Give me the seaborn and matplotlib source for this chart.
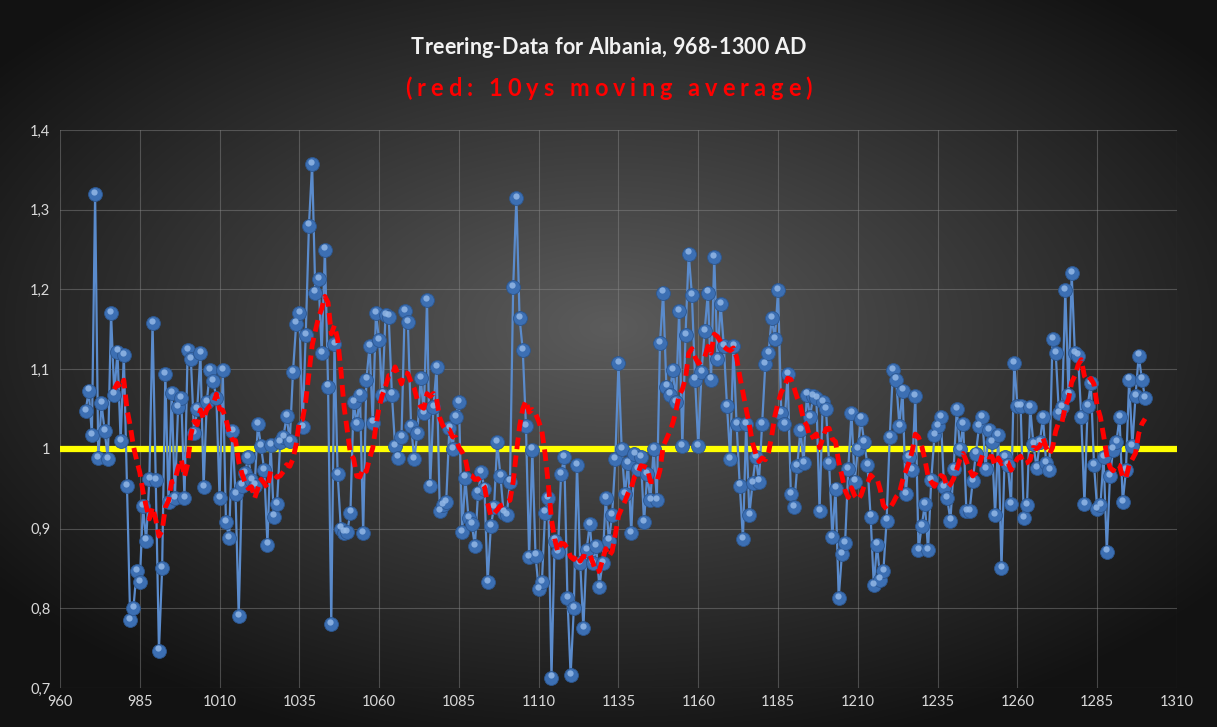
import numpy as np
import pandas as pd
import matplotlib
matplotlib.use("Agg")
import matplotlib.pyplot as plt
import seaborn as sns
from matplotlib.transforms import offset_copy
from matplotlib.ticker import FuncFormatter

# jahresringe, gelesen aus der grafik (968-1300)
first_year = 968
last_year = 1300

ring_968_999 = [
    1.047, 1.073, 1.017, 1.320, 0.988, 1.057, 1.022, 0.987, 1.170, 1.068,
    1.122, 1.010, 1.118, 0.953, 0.785, 0.800, 0.847, 0.833, 0.928, 0.885,
    0.962, 1.158, 0.961, 0.747, 0.850, 1.094, 0.933, 1.070, 0.938, 1.052,
    1.064, 0.938]
ring_1000_1099 = [
    1.124, 1.113, 1.020, 1.050, 1.120, 0.952, 1.059, 1.099, 1.085, 1.064,
    0.938, 1.099, 0.908, 0.888, 1.022, 0.943, 0.790, 0.954, 0.970, 0.990,
    0.961, 0.954, 1.031, 1.003, 0.973, 0.880, 1.005, 0.915, 0.931, 1.008,
    1.015, 1.041, 1.010, 1.096, 1.157, 1.170, 1.027, 1.143, 1.280, 1.357,
    1.196, 1.213, 1.120, 1.250, 1.078, 0.780, 1.131, 0.968, 0.900, 0.895,
    0.896, 0.920, 1.059, 1.031, 1.068, 0.894, 1.087, 1.129, 1.033, 1.170,
    1.136, 1.068, 1.168, 1.166, 1.068, 1.003, 0.989, 1.015, 1.173, 1.159,
    1.029, 0.987, 1.020, 1.089, 1.045, 1.187, 0.954, 1.052, 1.103, 0.922,
    0.929, 0.933, 1.026, 1.000, 1.040, 1.059, 0.896, 0.964, 0.913, 0.906,
    0.878, 0.945, 0.971, 0.950, 0.833, 0.903, 0.927, 1.008, 0.966, 0.920]
ring_1100_1199 = [
    0.917, 0.959, 1.203, 1.315, 1.164, 1.124, 1.029, 0.864, 0.999, 0.866,
    0.824, 0.833, 0.920, 0.938, 0.713, 0.885, 0.870, 0.968, 0.990, 0.813,
    0.716, 0.800, 0.980, 0.857, 0.775, 0.873, 0.906, 0.857, 0.878, 0.827,
    0.857, 0.938, 0.885, 0.917, 0.987, 1.108, 1.000, 0.943, 0.982, 0.894,
    0.993, 0.975, 0.990, 0.908, 0.968, 0.936, 1.000, 0.936, 1.133, 1.196,
    1.078, 1.068, 1.099, 1.059, 1.173, 1.003, 1.143, 1.245, 1.193, 1.087,
    1.003, 1.096, 1.148, 1.196, 1.087, 1.241, 1.113, 1.182, 1.129, 1.054,
    0.987, 1.129, 1.031, 0.954, 0.887, 1.031, 0.917, 0.957, 0.990, 0.959,
    1.031, 1.106, 1.120, 1.164, 1.138, 1.199, 1.045, 1.031, 1.094, 0.943,
    0.927, 0.978, 1.024, 0.982, 1.068, 1.040, 1.066, 1.064, 0.922, 1.059]
ring_1200_1300 = [
    1.050, 0.982, 0.889, 0.950, 0.813, 0.868, 0.882, 0.975, 1.045, 0.959,
    1.000, 1.038, 1.008, 0.980, 0.915, 0.829, 0.880, 0.836, 0.847, 0.910,
    1.015, 1.099, 1.087, 1.029, 1.073, 0.943, 0.990, 0.973, 1.066, 0.873,
    0.903, 0.931, 0.873, 0.961, 1.017, 1.029, 1.040, 0.952, 0.938, 0.910,
    0.975, 1.050, 1.000, 1.031, 0.922, 0.922, 0.960, 0.994, 1.029, 1.040,
    0.975, 1.024, 1.008, 0.917, 1.017, 0.850, 0.990, 0.980, 0.931, 1.108,
    1.054, 1.054, 0.913, 0.929, 1.052, 1.006, 0.976, 1.008, 1.040, 0.982,
    0.973, 1.138, 1.120, 1.045, 1.052, 1.199, 1.068, 1.220, 1.120, 1.117,
    1.040, 0.931, 1.054, 1.082, 0.980, 0.924, 0.929, 0.990, 0.871, 0.966,
    0.999, 1.008, 1.040, 0.933, 0.973, 1.087, 1.003, 1.066, 1.117, 1.087,
    1.064]

ma_window = 10
x_ticks = [960, 985, 1010, 1035, 1060, 1085, 1110, 1135, 1160, 1185, 1210, 1235, 1260, 1285, 1310]
y_ticks = [0.7, 0.8, 0.9, 1.0, 1.1, 1.2, 1.3, 1.4]

title = "Treering-Data for Albania, 968-1300 AD"
subtitle = "(red: 10ys moving average)"

values = ring_968_999 + ring_1000_1099 + ring_1100_1199 + ring_1200_1300
df = pd.DataFrame({"year": np.arange(first_year, last_year + 1), "ring": values})
df["ma"] = df["ring"].rolling(ma_window).mean()


# text mit sperrung (buchstabenabstand in pixeln), zentriert
def spacedText(fig, s, yfrac, gap, **kw):
    r = fig.canvas.get_renderer()
    W = fig.bbox.width
    parts = []
    for ch in s:
        t = fig.text(0, yfrac, ch, va="center", ha="left", **kw)
        w = t.get_window_extent(r).width
        if ch == " ":
            w = fig.text(0, 0, "a a", **kw).get_window_extent(r).width - \
                fig.text(0, 0, "aa", **kw).get_window_extent(r).width
            for t2 in fig.texts[-2:]:
                t2.remove()
        parts.append((t, w))
    total = sum(w for _, w in parts) + gap * (len(parts) - 1)
    x = (W - total) / 2
    for t, w in parts:
        t.set_x(x / W)
        x += w + gap


sns.set_style("dark")
plt.rcParams["font.family"] = ["Lato", "DejaVu Sans"]

fig = plt.figure(figsize=(12.17, 7.27), dpi=100)

# dunkler radialer hintergrund
bg = fig.add_axes([0, 0, 1, 1], zorder=-10)
gx, gy = np.meshgrid(np.linspace(-1, 1, 600), np.linspace(-1, 1, 360))
r = np.clip(np.sqrt((gx * 0.95) ** 2 + ((gy + 0.1) * 1.0) ** 2), 0, 1.2)
shade = 0.36 - 0.24 * r
bg.imshow(np.dstack([shade] * 3), aspect="auto", extent=[0, 1, 0, 1], interpolation="bilinear")
bg.set_axis_off()

ax = fig.add_axes([60 / 1217, 39 / 727, 1117 / 1217, 558 / 727])
ax.set_facecolor("none")

ax.axhline(1.0, color="#ffff00", lw=4.5, zorder=2)

sns.lineplot(data=df, x="year", y="ring", ax=ax, color="#5a8bcc", lw=1.6,
             marker="o", markersize=10, markerfacecolor="#3c6fb3",
             markeredgecolor="#2c5790", markeredgewidth=0.6, zorder=3)
# glanzlicht auf den kugeln
hl = offset_copy(ax.transData, fig=fig, x=-0.6, y=1.6, units="points")
ax.plot(df["year"], df["ring"], "o", ms=4.5, color="#93b8e6", alpha=0.85,
        mec="none", transform=hl, zorder=4)

sns.lineplot(data=df, x="year", y="ma", ax=ax, color="#ff0000", lw=3.5, zorder=5)
ax.lines[-1].set_dashes((2.4, 1.3))

ax.set_xlim(960, 1310)
ax.set_ylim(0.7, 1.4)
ax.set_xticks(x_ticks)
ax.set_yticks(y_ticks)
ax.yaxis.set_major_formatter(FuncFormatter(lambda v, p: ("%g" % round(v, 1)).replace(".", ",")))
ax.grid(True, color="#8a8a8a", lw=0.8, alpha=0.45)
for s in ax.spines.values():
    s.set_visible(False)
ax.tick_params(length=0, colors="#d9d9d9", labelsize=10.5)
ax.tick_params(axis="y", pad=7)
ax.tick_params(axis="x", pad=5)
ax.set_xlabel("")
ax.set_ylabel("")

spacedText(fig, title, 1 - 47 / 727, 0.2, color="#f2f2f2", fontsize=15.5, fontweight="bold")
spacedText(fig, subtitle, 1 - 88 / 727, 5.0, color="#ff0000", fontsize=17, fontweight="bold")

fig.savefig("out.png", dpi=100)
plt.close(fig)
